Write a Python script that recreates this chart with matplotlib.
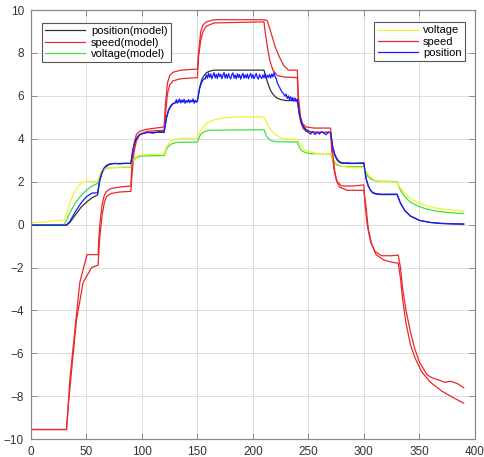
import numpy as np
import matplotlib
matplotlib.use("Agg")
import matplotlib.pyplot as plt

plt.rcParams['font.family'] = ['Liberation Sans', 'DejaVu Sans']

# position (model) - black
pos_model_x = [0, 32, 35, 40, 45, 50, 55, 60, 62, 64, 66, 68, 71, 75, 90, 92, 94, 96, 98, 101, 105,
               120, 122, 124, 126, 128, 131, 135, 150, 152, 154, 156, 158, 161, 165,
               210, 212, 214, 216, 218, 221, 225, 230, 240, 242, 244, 246, 248, 251, 255,
               270, 272, 274, 276, 278, 281, 285, 300, 302, 304, 306, 308, 311, 315,
               330, 333, 337, 342, 350, 360, 370, 380, 390]
pos_model_y = [-0.03, -0.03, 0.1, 0.45, 0.8, 1.05, 1.25, 1.38, 2.05, 2.4, 2.6, 2.72, 2.81, 2.85, 2.85,
               3.5, 3.87, 4.07, 4.18, 4.26, 4.3, 4.3, 4.95, 5.32, 5.5, 5.63, 5.7, 5.75, 5.75,
               6.4, 6.77, 6.95, 7.08, 7.15, 7.2, 7.2, 6.85, 6.5, 6.25, 6.08, 5.92, 5.83, 5.78, 5.78,
               5.1, 4.75, 4.55, 4.43, 4.35, 4.3, 4.3, 3.6, 3.25, 3.05, 2.93, 2.88, 2.85, 2.85,
               2.15, 1.8, 1.6, 1.48, 1.42, 1.4, 1.4, 1.0, 0.65, 0.4, 0.2, 0.1, 0.05, 0.03, 0.02]

# speed - two red traces
speed_a_x = [0, 32, 33, 35, 39.6, 44, 50.5, 60.5, 61, 62, 64, 66, 68, 72, 80, 90,
             91, 93, 95, 98, 105, 120, 121, 123, 125, 128, 135, 150,
             151, 153, 155, 158, 165, 210, 213, 216, 220, 224, 228, 232, 240,
             241, 243, 245, 248, 255, 270, 272, 274, 276, 280, 290, 300,
             301, 303, 306, 310, 316, 325, 331, 333, 335, 338, 342, 346, 350, 357,
             362, 368, 373, 378, 384, 390]
speed_a_y = [-9.55, -9.55, -8.9, -7.25, -4.9, -2.7, -1.4, -1.4, -0.8, 0.0, 0.9, 1.35, 1.55, 1.68, 1.75, 1.8,
             2.8, 3.8, 4.2, 4.35, 4.45, 4.55, 5.5, 6.6, 6.95, 7.1, 7.2, 7.25,
             8.0, 9.0, 9.3, 9.45, 9.55, 9.55, 9.5, 9.0, 8.3, 7.8, 7.4, 7.2, 7.2,
             6.0, 5.0, 4.7, 4.55, 4.5, 4.5, 3.3, 2.4, 2.0, 1.8, 1.8, 1.85,
             1.0, 0.0, -0.8, -1.25, -1.45, -1.45, -1.42, -2.0, -3.0, -4.0, -5.0, -5.8, -6.4, -7.0,
             -7.15, -7.25, -7.35, -7.3, -7.4, -7.6]
speed_b_x = [0, 32, 33.5, 36.6, 41, 47, 54.6, 60.5, 61, 62, 64, 66, 68, 72, 80, 90,
             91, 93, 95, 98, 105, 120, 121, 123, 125, 128, 135, 150,
             151, 153, 155, 158, 165, 210, 211, 213, 215, 218, 222, 228, 240,
             241, 243, 245, 248, 255, 270, 271, 273, 275, 278, 285, 300,
             302, 304, 307, 311, 318, 325, 331, 333, 335, 338, 342, 346, 352,
             360, 370, 380, 390]
speed_b_y = [-9.55, -9.55, -8.5, -6.8, -4.45, -2.7, -2.0, -1.89, -1.4, -0.6, 0.4, 1.0, 1.3, 1.45, 1.52, 1.55,
             2.3, 3.4, 3.9, 4.2, 4.35, 4.4, 5.0, 6.1, 6.5, 6.7, 6.8, 6.85,
             7.8, 8.6, 9.0, 9.25, 9.4, 9.45, 9.0, 8.3, 7.7, 7.2, 6.95, 6.88, 6.85,
             5.6, 4.8, 4.5, 4.35, 4.3, 4.3, 3.5, 2.6, 2.1, 1.75, 1.6, 1.6,
             0.8, -0.2, -0.9, -1.4, -1.65, -1.75, -1.8, -2.5, -3.5, -4.6, -5.6, -6.2, -6.85,
             -7.35, -7.75, -8.05, -8.32]

# voltage (model) - green
volt_model_x = [0, 30, 32, 35, 40, 45, 50, 55, 60, 62, 64, 67, 70, 90, 92, 94, 97, 101,
                120, 122, 124, 127, 131, 150, 152, 154, 157, 161, 210, 212, 214, 217, 221,
                240, 242, 244, 247, 251, 270, 272, 274, 277, 281, 300, 302, 304, 307, 311,
                330, 333, 337, 342, 348, 355, 365, 375, 385, 390]
volt_model_y = [0, 0, 0.2, 0.55, 1.0, 1.35, 1.6, 1.8, 1.92, 2.25, 2.45, 2.6, 2.65, 2.68, 2.95, 3.08, 3.17, 3.2,
                3.22, 3.5, 3.66, 3.77, 3.83, 3.85, 4.12, 4.26, 4.35, 4.4, 4.42, 4.15, 4.0, 3.9, 3.86,
                3.85, 3.58, 3.45, 3.36, 3.31, 3.3, 3.0, 2.85, 2.76, 2.71, 2.7, 2.4, 2.22, 2.1, 2.03,
                2.0, 1.6, 1.3, 1.05, 0.88, 0.75, 0.63, 0.57, 0.53, 0.52]

# voltage (measured) - yellow
volt_x = [0, 10, 20, 30, 32, 35, 38, 42, 46, 50, 60, 62, 64, 67, 70, 90, 92, 94, 97, 100,
          120, 122, 125, 129, 135, 150, 152, 156, 160, 166, 175, 185, 210, 213, 216, 220, 225, 230,
          240, 243, 246, 250, 256, 270, 273, 276, 280, 286, 300, 303, 306, 310, 316,
          330, 333, 337, 342, 348, 355, 365, 375, 385, 390]
volt_y = [0.08, 0.12, 0.17, 0.22, 0.5, 1.0, 1.4, 1.75, 1.95, 2.02, 2.0, 2.3, 2.5, 2.62, 2.65, 2.7, 3.0, 3.15, 3.22, 3.25,
          3.3, 3.6, 3.85, 3.97, 4.02, 4.03, 4.3, 4.6, 4.78, 4.9, 4.98, 5.02, 5.02, 4.7, 4.4, 4.2, 4.05, 4.0,
          3.98, 3.7, 3.5, 3.4, 3.33, 3.3, 3.0, 2.85, 2.72, 2.67, 2.65, 2.4, 2.2, 2.07, 2.0,
          1.98, 1.7, 1.45, 1.22, 1.05, 0.9, 0.77, 0.7, 0.65, 0.63]

pos_noise_130 = [5.68, 5.82, 5.66, 5.8, 5.85, 5.67, 5.81, 5.7, 5.84, 5.65, 5.78, 5.7, 5.83, 5.68, 5.79,
                 5.72, 5.86, 5.66, 5.8, 5.7, 5.76]
pos_noise_150 = [6.78, 6.98, 6.82, 7.06, 6.86, 7.02, 6.8, 6.95, 7.08, 6.84, 7.0, 6.81, 7.05, 6.9, 7.01,
                 6.8, 6.96, 7.09, 6.83, 7.0, 6.82, 7.04, 6.88, 6.79, 6.99, 7.07, 6.83, 6.97, 6.8, 7.03,
                 6.86, 7.0, 6.78, 6.94, 7.05, 6.82, 6.98, 6.84, 7.02, 6.8, 6.95, 7.04, 6.83, 6.99, 6.8,
                 6.93, 7.05, 6.85, 6.78, 7.0, 6.89, 6.81, 6.98, 6.84, 7.03, 6.8, 6.96, 6.86, 7.0, 6.83,
                 7.02, 6.88, 7.08, 6.9]
pos_noise_229 = [5.98, 6.08, 5.88, 6.0, 5.82, 5.96, 5.78, 5.92, 5.76, 5.9, 5.74, 5.86]
pos_noise_252 = [4.22, 4.34, 4.2, 4.31, 4.22, 4.33, 4.25, 4.19, 4.31, 4.26]

pos_x = ([0, 32, 35, 40, 45, 50, 55, 60, 62, 64, 66, 68, 71, 75, 80, 85, 90, 92, 94, 96, 98, 101, 105,
          110, 115, 120, 122, 124, 126, 128]
         + list(np.arange(130, 150.5, 1))
         + [152, 154, 156]
         + list(np.arange(157, 157 + len(pos_noise_150)))
         + [221, 222, 224, 226, 228]
         + list(np.arange(229, 241))
         + [242, 244, 246, 248, 250]
         + list(np.arange(252, 271, 2))
         + [272, 274, 276, 278, 281, 285, 290, 295, 300, 302, 304, 306, 308, 311, 315, 330,
            333, 337, 342, 350, 360, 370, 380, 390])
pos_y = ([-0.02, -0.02, 0.15, 0.6, 1.0, 1.3, 1.47, 1.48, 2.1, 2.45, 2.65, 2.76, 2.83, 2.85, 2.83, 2.86, 2.85,
          3.55, 3.9, 4.1, 4.2, 4.25, 4.3, 4.26, 4.33, 4.32, 4.95, 5.35, 5.55, 5.65]
         + pos_noise_130
         + [6.35, 6.65, 6.8]
         + pos_noise_150
         + [6.8, 6.6, 6.4, 6.2, 6.08]
         + pos_noise_229
         + [5.1, 4.7, 4.5, 4.38, 4.3]
         + pos_noise_252
         + [3.6, 3.2, 3.0, 2.9, 2.85, 2.88, 2.86, 2.87, 2.88, 2.15, 1.8, 1.6, 1.5, 1.44, 1.42, 1.42,
            1.0, 0.65, 0.4, 0.2, 0.1, 0.06, 0.04, 0.03])

fig = plt.figure(figsize=(4.84, 4.57), dpi=100)
ax = fig.add_axes([0.064, 0.039, 0.917, 0.939])

lw = 0.9
l1, = ax.plot(pos_model_x, pos_model_y, color='#333333', lw=lw, label='position(model)')
l2, = ax.plot(speed_b_x, speed_b_y, color='#e8282c', lw=lw, label='speed(model)')
l3, = ax.plot(volt_model_x, volt_model_y, color='#3ee03e', lw=lw, label='voltage(model)')
l4, = ax.plot(volt_x, volt_y, color='#f2f230', lw=lw, label='voltage')
l5, = ax.plot(speed_a_x, speed_a_y, color='#e8282c', lw=lw, label='speed')
l6, = ax.plot(pos_x, pos_y, color='#1a1aff', lw=lw, label='position')

ax.set_xlim(0, 400)
ax.set_ylim(-10, 10)
ax.set_xticks(np.arange(0, 401, 50))
ax.set_yticks(np.arange(-10, 11, 2))
ax.grid(True, color='#dcdcdc', lw=0.7)
ax.set_axisbelow(True)
for s in ax.spines.values():
    s.set_color('#8a8a8a')
    s.set_linewidth(0.9)
ax.tick_params(direction='in', top=True, right=True, length=4, width=0.7,
               color='#8a8a8a', labelsize=8.5, labelcolor='#333333', pad=5)

leg1 = ax.legend(handles=[l1, l2, l3], loc='upper left', bbox_to_anchor=(0.025, 0.97),
                 fontsize=8, fancybox=False, framealpha=1, edgecolor='#555555',
                 handlelength=3.6, borderpad=0.3, labelspacing=0.12, borderaxespad=0,
                 handletextpad=0.5)
leg1.get_frame().set_linewidth(0.8)
ax.add_artist(leg1)
leg2 = ax.legend(handles=[l4, l5, l6], loc='upper right', bbox_to_anchor=(0.978, 0.972),
                 fontsize=8, fancybox=False, framealpha=1, edgecolor='#555555',
                 handlelength=3.6, borderpad=0.3, labelspacing=0.12, borderaxespad=0,
                 handletextpad=0.5)
leg2.get_frame().set_linewidth(0.8)

fig.savefig('out.png', dpi=100)
